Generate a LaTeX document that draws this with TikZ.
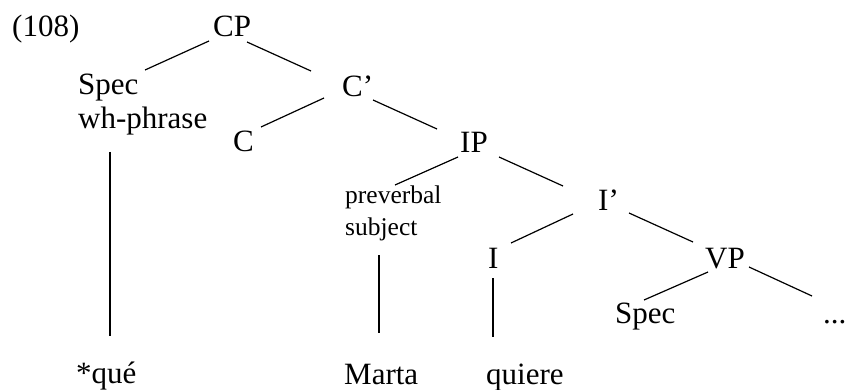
\documentclass[tikz,border=0pt]{standalone}
\usepackage{fontspec}
\setmainfont{Liberation Serif}
\usetikzlibrary{calc}
\tikzset{
  lbl/.style={inner sep=0pt, anchor=base west, font=\fontsize{31}{34}\selectfont},
  small/.style={inner sep=0pt, anchor=base west, font=\fontsize{25.5}{31}\selectfont},
  edge/.style={line width=1.2pt},
  stem/.style={line width=1.1pt}
}
\begin{document}
\begin{tikzpicture}[x=1pt,y=-1pt]
\useasboundingbox (0,0) rectangle (848,390);
\node[lbl] (n108) at (12,37) {(108)};
\node[lbl] (CP) at (213,37) {CP};
\node[lbl] (spec1) at (78,95) {Spec};
\node[lbl] (wh) at (78,129) {wh-phrase};
\node[lbl] (Cbar) at (342,97) {C’};
\node[lbl] (C) at (233,152) {C};
\node[lbl] (IP) at (460,153) {IP};
\node[small] (pre) at (345,204) {preverbal};
\node[small] (subj) at (345,235) {subject};
\node[lbl] (Ibar) at (598,211) {I’};
\node[lbl] (I) at (488,268) {I};
\node[lbl] (VP) at (705,268) {VP};
\node[lbl] (spec2) at (615,323) {Spec};
\node[lbl] (dots) at (823,323) {...};
\node[lbl] (que) at (76,383) {*qué};
\node[lbl] (marta) at (344,384) {Marta};
\node[lbl] (quiere) at (486,384) {quiere};

\draw[edge] ($(CP.base west)+(-4,4)$) -- ($(spec1.base west)+(67,-25)$);
\draw[edge] ($(CP.base west)+(34,5)$) -- ($(Cbar.base west)+(-31,-26)$);
\draw[edge] ($(Cbar.base west)+(-18,1)$) -- ($(C.base west)+(28,-25)$);
\draw[edge] ($(Cbar.base west)+(31,3)$) -- ($(IP.base west)+(-23,-24)$);
\draw[edge] ($(IP.base west)+(-2,4)$) -- ($(pre.base west)+(50,-19)$);
\draw[edge] ($(IP.base west)+(39,4)$) -- ($(Ibar.base west)+(-35,-25)$);
\draw[edge] ($(Ibar.base west)+(-25,3)$) -- ($(I.base west)+(23,-25)$);
\draw[edge] ($(Ibar.base west)+(31,2)$) -- ($(VP.base west)+(-12,-26)$);
\draw[edge] ($(VP.base west)+(3,4)$) -- ($(spec2.base west)+(29,-23)$);
\draw[edge] ($(VP.base west)+(44,-1)$) -- ($(dots.base west)+(-11,-27)$);
\draw[stem] ($(wh.base west)+(32,23)$) -- ($(que.base west)+(34,-47)$);
\draw[stem] ($(subj.base west)+(34,20)$) -- ($(marta.base west)+(35,-51)$);
\draw[stem] ($(I.base west)+(5,10)$) -- ($(quiere.base west)+(7,-47)$);
\end{tikzpicture}
\end{document}
